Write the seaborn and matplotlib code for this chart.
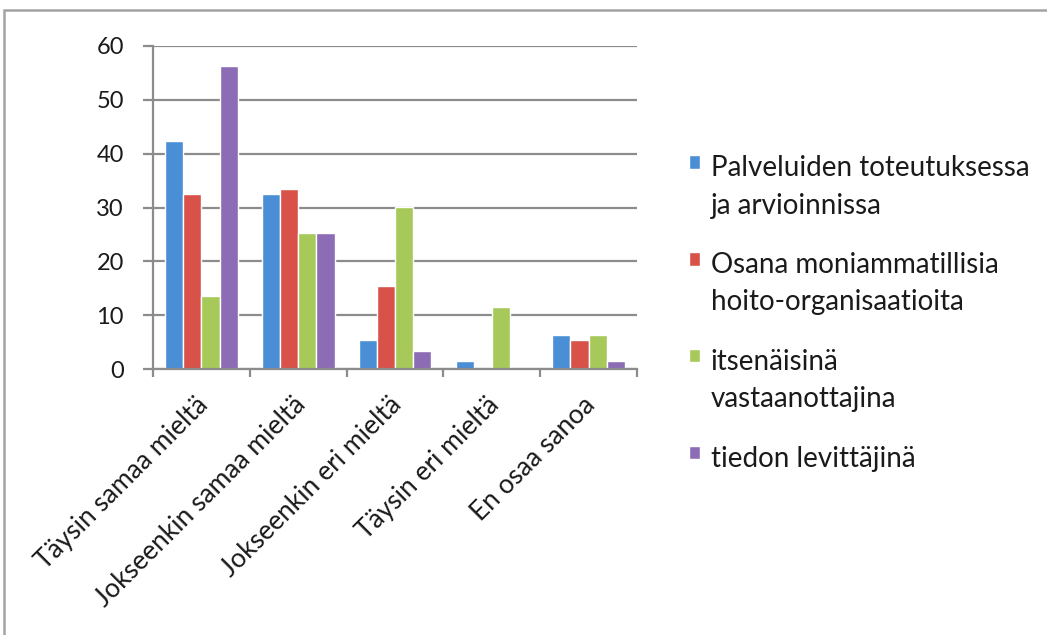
import matplotlib
matplotlib.use("Agg")
import matplotlib.pyplot as plt
import matplotlib.transforms as mtransforms
from matplotlib.patches import Rectangle
import seaborn as sns
import pandas as pd

# Survey answers (%) per response option and role
categories = ["Täysin samaa mieltä", "Jokseenkin samaa mieltä",
              "Jokseenkin eri mieltä", "Täysin eri mieltä", "En osaa sanoa"]
series_names = ["Palveluiden toteutuksessa\nja arvioinnissa",
                "Osana moniammatillisia\nhoito-organisaatioita",
                "itsenäisinä\nvastaanottajina",
                "tiedon levittäjinä"]
palveluiden = [42.4, 32.5, 5.4, 1.5, 6.3]
osana = [32.5, 33.4, 15.4, 0.0, 5.3]
itsenaisina = [13.5, 25.3, 30.1, 11.5, 6.3]
tiedon = [56.2, 25.3, 3.4, 0.0, 1.5]
y_ticks = [0, 10, 20, 30, 40, 50, 60]

colors = ["#4a8ed6", "#d8524a", "#a6c95a", "#8d6cb6"]

rows = []
for name, vals in zip(series_names, [palveluiden, osana, itsenaisina, tiedon]):
    for cat, v in zip(categories, vals):
        rows.append({"kategoria": cat, "sarja": name, "arvo": v})
df = pd.DataFrame(rows)

sns.set_theme(style="white")
plt.rcParams["font.family"] = ["Lato", "DejaVu Sans"]

fig = plt.figure(figsize=(10.47, 6.35), dpi=100)
ax = fig.add_axes([153 / 1047, 1 - 369 / 635, 484 / 1047, 323 / 635])

sns.barplot(data=df, x="kategoria", y="arvo", hue="sarja", order=categories,
            hue_order=series_names, palette=colors, saturation=1, width=0.75,
            ax=ax, errorbar=None, legend=True)

ax.set_ylim(0, 60)
ax.set_xlim(-0.5, len(categories) - 0.5)
ax.set_yticks(y_ticks)
ax.set_yticklabels([str(t) for t in y_ticks], fontsize=17, color="#1a1a1a")
ax.yaxis.grid(True, color="#8c8c8c", linewidth=1.6)
ax.set_axisbelow(True)
ax.set_xlabel("")
ax.set_ylabel("")

for side in ["top", "right"]:
    ax.spines[side].set_visible(False)
for side in ["left", "bottom"]:
    ax.spines[side].set_color("#8c8c8c")
    ax.spines[side].set_linewidth(1.6)

ax.tick_params(axis="y", which="major", length=7, width=1.6, color="#8c8c8c",
               pad=14, left=True)
# category boundary ticks on the x axis
ax.set_xticks([i - 0.5 for i in range(len(categories) + 1)], minor=True)
ax.tick_params(axis="x", which="minor", length=6, width=1.6, color="#8c8c8c",
               bottom=True, direction="out")
ax.tick_params(axis="x", which="major", length=0, pad=23)
ax.set_xticks(range(len(categories)))
ax.set_xticklabels(categories, rotation=45, ha="right", va="center",
                   rotation_mode="anchor", fontsize=19, color="#1a1a1a")
shift = mtransforms.ScaledTranslation(3 / 100, 0, fig.dpi_scale_trans)
for lab in ax.get_xticklabels():
    lab.set_transform(lab.get_transform() + shift)

handles, labels = ax.get_legend_handles_labels()
leg = ax.legend(handles, labels, loc="upper left",
                bbox_to_anchor=(689 / 1047, 1 - 155 / 635),
                bbox_transform=fig.transFigure, frameon=False, fontsize=20,
                handlelength=0.38, handleheight=0.38, handletextpad=0.4,
                labelspacing=1.2, borderpad=0, borderaxespad=0)
for t in leg.get_texts():
    t.set_linespacing(1.55)
    t.set_color("#1a1a1a")
# put each legend square beside the first line of its label
for column in leg._legend_handle_box.get_children():
    for item in column.get_children():
        item.align = "top"

# outer chart frame
fig.patches.append(Rectangle((4 / 1047, -0.05), 1.2, 1 - 10 / 635 + 0.05,
                             transform=fig.transFigure, fill=False,
                             edgecolor="#a3a3a3", linewidth=1.8))

fig.savefig("out.png", dpi=100)
